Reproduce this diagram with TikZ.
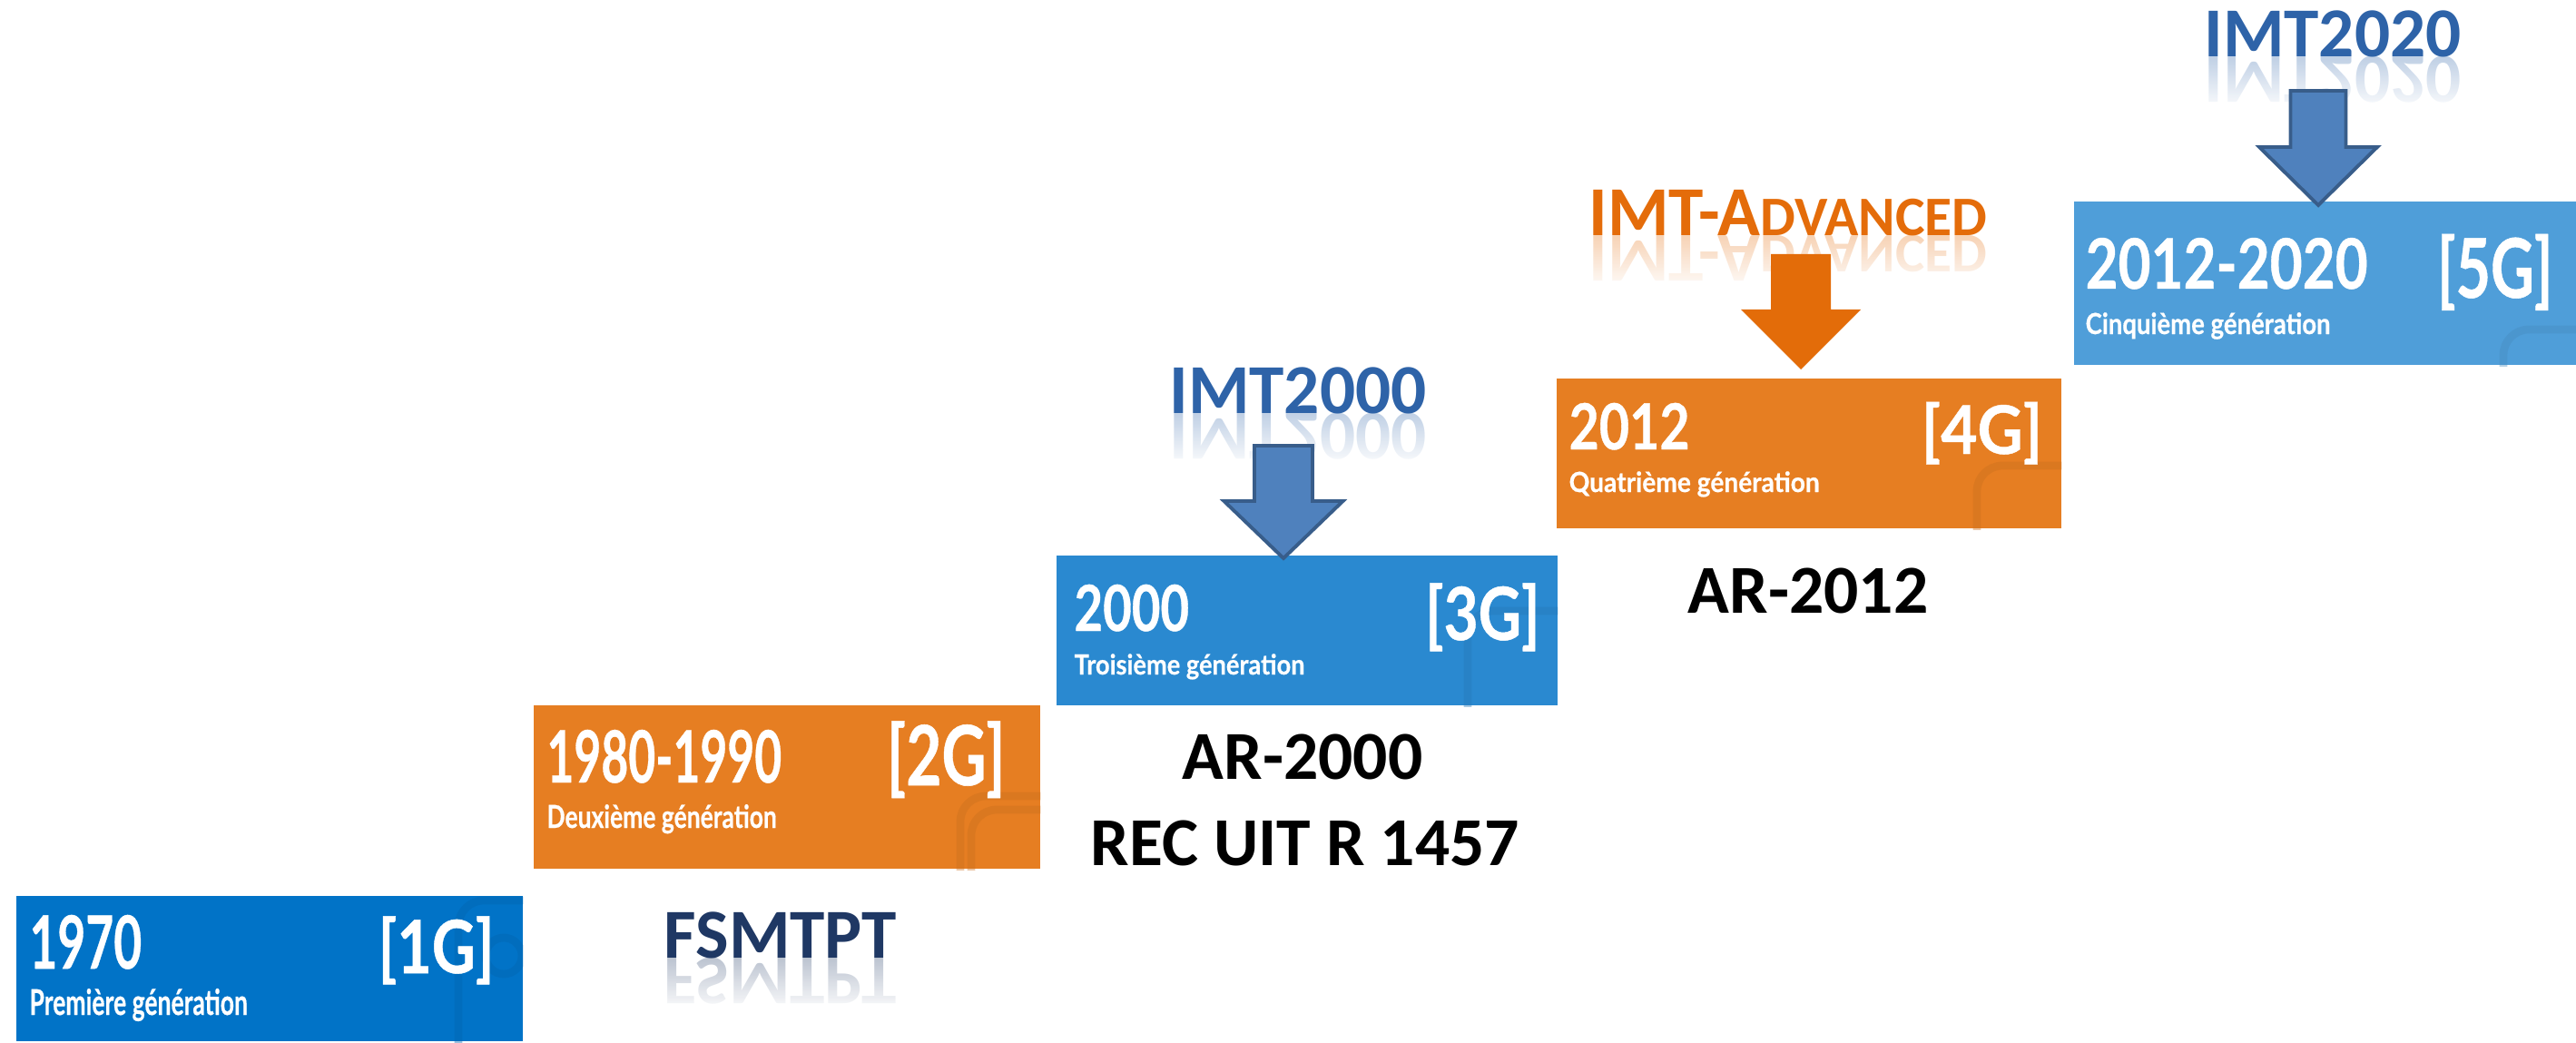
\documentclass[tikz,border=0pt]{standalone}
\usepackage{fontspec}
\setmainfont{Carlito}
\newfontfamily\gensans[FakeBold=0.6]{Lato Bold}
\usetikzlibrary{positioning, fadings}

\definecolor{gblue}{RGB}{1,115,199}
\definecolor{gorange}{RGB}{230,126,34}
\definecolor{gbluemid}{RGB}{42,137,208}
\definecolor{gbluelight}{RGB}{79,158,217}
\definecolor{arrblue}{RGB}{79,129,189}
\definecolor{arrblueline}{RGB}{56,93,138}
\definecolor{arrorange}{RGB}{227,108,9}
\definecolor{imtblue}{RGB}{46,99,168}
\definecolor{imtnavy}{RGB}{31,56,100}
\definecolor{imtorange}{RGB}{228,108,10}

\tikzset{
    genbox/.style={fill=#1, anchor=south west, inner sep=0pt},
    phone/.style={draw=#1!88!black, line width=2.5pt, rounded corners=8pt, opacity=0.4},
    % font size, horizontal squeeze
    yeartxt/.style 2 args={text=white, inner sep=0pt, anchor=base west, font=\gensans\fontsize{#1}{#1}\selectfont, xscale=#2, transform shape},
    subtxt/.style 2 args={text=white, inner sep=0pt, anchor=base west, font=\gensans\fontsize{#1}{#1}\selectfont, xscale=#2, transform shape},
    tagtxt/.style 2 args={text=white, inner sep=0pt, anchor=base east, font=\gensans\fontsize{#1}{#1}\selectfont, xscale=#2, transform shape},
    imtlbl/.style={text=#1, inner sep=0pt, anchor=base, font=\bfseries\fontsize{22}{22}\selectfont},
    reflet/.style={yscale=-1, transform shape, opacity=0.3},
    artxt/.style={inner sep=0pt, anchor=base, font=\bfseries\fontsize{21.5}{21.5}\selectfont},
    bluearrow/.style={fill=arrblue, draw=arrblueline, line width=1.1pt, line join=miter},
    orgarrow/.style={fill=arrorange}
}

\begin{document}
\begin{tikzpicture}
    \useasboundingbox (0,0) rectangle (28.38,11.48);

    % generation boxes
    \node[genbox=gblue, minimum width=5.58cm, minimum height=1.60cm] (b1) at (0.17,0) {};
    \node[genbox=gorange, minimum width=5.58cm, minimum height=1.80cm] (b2) at (5.87,1.90) {};
    \node[genbox=gbluemid, minimum width=5.52cm, minimum height=1.65cm] (b3) at (11.63,3.70) {};
    \node[genbox=gorange, minimum width=5.56cm, minimum height=1.65cm] (b4) at (17.14,5.65) {};
    \node[genbox=gbluelight, minimum width=5.54cm, minimum height=1.80cm] (b5) at (22.84,7.45) {};

    % faint phone drawings in the boxes
    \begin{scope}
        \clip (b1.south west) rectangle (b1.north east);
        \draw[phone=gblue] (5.05,-0.4) rectangle (6.3,1.56);
        \draw[phone=gblue] (5.55,0.95) circle (0.2);
    \end{scope}
    \begin{scope}
        \clip (b2.south west) rectangle (b2.north east);
        \draw[phone=gorange] (10.58,1.5) rectangle (12,2.71);
        \draw[phone=gorange] (10.70,1.5) rectangle (12,2.56);
    \end{scope}
    \begin{scope}
        \clip (b3.south west) rectangle (b3.north east);
        \draw[phone=gbluemid] (16.17,3.3) rectangle (17.6,4.75);
    \end{scope}
    \begin{scope}
        \clip (b4.south west) rectangle (b4.north east);
        \draw[phone=gorange] (21.78,5.3) rectangle (23.2,6.35);
    \end{scope}
    \begin{scope}
        \clip (b5.south west) rectangle (b5.north east);
        \draw[phone=gbluelight] (27.58,7.0) rectangle (29,7.85);
    \end{scope}

    \node[yeartxt={23}{0.66}] (y1) at (0.32,0.81) {1970};
    \node[subtxt={11.1}{0.68}] (s1) at (0.32,0.30) {Première génération};
    \node[tagtxt={23}{0.82}] (t1) at (5.45,0.76) {[1G]};

    \node[yeartxt={22.6}{0.65}] (y2) at (6.02,2.86) {1980-1990};
    \node[subtxt={9.9}{0.76}] (s2) at (6.02,2.36) {Deuxième génération};
    \node[tagtxt={26}{0.74}] (t2) at (11.08,2.83) {[2G]};

    \node[yeartxt={19.9}{0.78}] (y3) at (11.83,4.53) {2000};
    \node[subtxt={8.7}{0.89}] (s3) at (11.83,4.05) {Troisième génération};
    \node[tagtxt={23}{0.81}] (t3) at (16.97,4.43) {[3G]};

    \node[yeartxt={19.9}{0.82}] (y4) at (17.28,6.53) {2012};
    \node[subtxt={8.7}{0.92}] (s4) at (17.28,6.06) {Quatrième génération};
    \node[tagtxt={21}{0.94}] (t4) at (22.51,6.48) {[4G]};

    \node[yeartxt={21.8}{0.81}] (y5) at (22.97,8.30) {2012-2020};
    \node[subtxt={9.1}{0.86}] (s5) at (22.97,7.80) {Cinquième génération};
    \node[tagtxt={25.8}{0.73}] (t5) at (28.13,8.20) {[5G]};

    % standards
    \node[imtlbl=imtnavy] (fsm) at (8.60,0.93) {FSMTPT};
    \node[imtlbl=imtnavy, reflet] (fsmr) at (fsm.base) {FSMTPT};
    \node[imtlbl=imtblue] (imt3) at (14.30,6.93) {IMT2000};
    \node[imtlbl=imtblue, reflet] (imt3r) at (imt3.base) {IMT2000};
    \node[imtlbl=imtorange] (imt4) at (19.70,8.88) {IMT-A{\fontsize{17.5}{17.5}\selectfont DVANCED}};
    \node[imtlbl=imtorange, reflet] (imt4r) at (imt4.base) {IMT-A{\fontsize{17.5}{17.5}\selectfont DVANCED}};
    \node[imtlbl=imtblue] (imt5) at (25.70,10.85) {IMT2020};
    \node[imtlbl=imtblue, reflet] (imt5r) at (imt5.base) {IMT2020};
    \foreach \lbl in {fsm, imt3, imt4, imt5}
        \fill[white, path fading=north] ([xshift=-0.1cm, yshift=-0.6cm]\lbl.base west) rectangle ([xshift=0.1cm]\lbl.base east);

    \node[artxt] (ar3) at (14.35,2.90) {AR-2000};
    \node[artxt] (rec3) at (14.38,1.95) {REC UIT R 1457};
    \node[artxt] (ar4) at (19.92,4.73) {AR-2012};

    % block arrows
    \coordinate (p3) at (14.14,5.33);
    \coordinate (p4) at (19.84,7.41);
    \coordinate (p5) at (25.54,9.22);
    \draw[bluearrow] (p3) -- ++(-0.655,0.63) -- ++(0.335,0) -- ++(0,0.61) -- ++(0.64,0) -- ++(0,-0.61) -- ++(0.335,0) -- cycle;
    \fill[orgarrow] (p4) -- ++(-0.66,0.66) -- ++(0.33,0) -- ++(0,0.61) -- ++(0.66,0) -- ++(0,-0.61) -- ++(0.33,0) -- cycle;
    \draw[bluearrow] (p5) -- ++(-0.65,0.64) -- ++(0.345,0) -- ++(0,0.62) -- ++(0.61,0) -- ++(0,-0.62) -- ++(0.345,0) -- cycle;
\end{tikzpicture}
\end{document}
